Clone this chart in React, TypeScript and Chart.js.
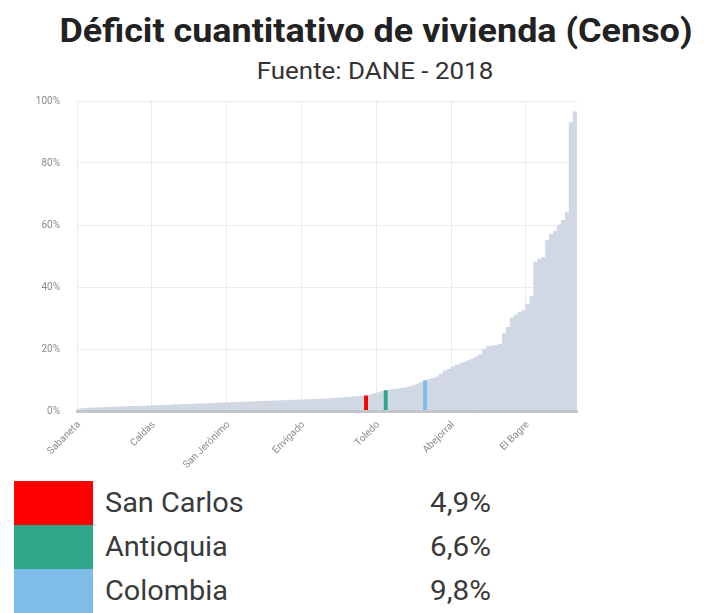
import React, { useEffect, useRef } from "react";
import { Chart, registerables } from "chart.js";

Chart.register(...registerables);
Chart.defaults.font.family = "Roboto";

const municipios: string[] = [
  "Sabaneta", "Itagüí", "La Estrella", "Medellín", "Bello", "Copacabana", "Girardota", "Rionegro", "La Ceja", "Marinilla",
  "Guarne", "Retiro", "El Carmen de Viboral", "La Unión", "El Santuario", "Barbosa", "Donmatías", "Entrerríos", "San Pedro de los Milagros", "Caldas",
  "Santa Rosa de Osos", "Belmira", "Guatapé", "El Peñol", "Jardín", "Jericó", "Andes", "Fredonia", "Santa Bárbara", "Amagá",
  "Titiribí", "Venecia", "Támesis", "Caramanta", "Montebello", "Abriaquí", "Sopetrán", "Santa Fe de Antioquia", "San Jerónimo", "Ebéjico",
  "Heliconia", "Angelópolis", "Armenia", "Concordia", "Betulia", "Salgar", "Hispania", "Betania", "Ciudad Bolívar", "Pueblorrico",
  "Tarso", "La Pintada", "Valparaíso", "Yarumal", "Angostura", "Carolina del Príncipe", "Gómez Plata", "Envigado", "Guadalupe", "Campamento",
  "San José de la Montaña", "San Andrés de Cuerquia", "Sonsón", "Nariño", "Argelia", "Concepción", "Alejandría", "Santo Domingo", "San Vicente", "Granada",
  "Cocorná", "San Francisco", "San Luis", "San Carlos", "San Rafael", "San Roque", "Toledo", "Cisneros", "Antioquia", "Maceo",
  "Caracolí", "Puerto Berrío", "Puerto Nare", "Puerto Triunfo", "Yolombó", "Yalí", "Vegachí", "Amalfi", "Colombia", "Anorí",
  "Liborina", "Sabanalarga", "Olaya", "Buriticá", "Giraldo", "Abejorral", "Cañasgordas", "Uramita", "Frontino", "Dabeiba",
  "Peque", "Ituango", "Briceño", "Valdivia", "Urrao", "Caicedo", "Anzá", "Segovia", "Remedios", "Zaragoza",
  "Caucasia", "Tarazá", "Cáceres", "Nechí", "El Bagre", "Yondó", "Apartadó", "Carepa", "Chigorodó", "Mutatá",
  "Turbo", "Necoclí", "San Juan de Urabá", "Arboletes", "San Pedro de Urabá", "Vigía del Fuerte", "Murindó",
];

const deficit: number[] = [
  0.6, 0.8, 0.9, 1.0, 1.0, 1.1, 1.1, 1.2, 1.2, 1.3,
  1.3, 1.4, 1.4, 1.5, 1.5, 1.5, 1.6, 1.6, 1.7, 1.7,
  1.8, 1.8, 1.9, 1.9, 2.0, 2.0, 2.1, 2.1, 2.2, 2.2,
  2.3, 2.3, 2.4, 2.4, 2.5, 2.5, 2.6, 2.6, 2.7, 2.7,
  2.8, 2.8, 2.9, 2.9, 3.0, 3.0, 3.1, 3.1, 3.2, 3.2,
  3.3, 3.3, 3.4, 3.4, 3.5, 3.5, 3.6, 3.6, 3.7, 3.7,
  3.8, 3.8, 3.9, 3.9, 4.0, 4.1, 4.2, 4.3, 4.4, 4.5,
  4.6, 4.7, 4.8, 4.9, 5.2, 5.6, 5.9, 6.3, 6.6, 6.8,
  7.0, 7.1, 7.3, 7.5, 7.8, 8.2, 8.7, 9.3, 9.8, 10.2,
  10.5, 11.0, 12.0, 13.0, 13.5, 14.2, 14.8, 15.3, 15.7, 16.2,
  16.8, 17.5, 18.2, 20.0, 20.8, 21.0, 21.2, 21.5, 25.0, 27.0,
  30.0, 31.0, 31.8, 32.5, 34.5, 37.0, 48.0, 49.0, 49.5, 55.0,
  57.0, 58.0, 60.0, 61.5, 64.0, 93.0, 96.5,
];

const tickLabels: string[] = ["Sabaneta", "Caldas", "San Jerónimo", "Envigado", "Toledo", "Abejorral", "El Bagre"];
const yTicks: number[] = [0, 20, 40, 60, 80, 100];

const highlightNames: string[] = ["San Carlos", "Antioquia", "Colombia"];
const highlightValues: string[] = ["4,9%", "6,6%", "9,8%"];
const highlightColors: string[] = ["#ff0000", "#2ea68a", "#7dbde8"];
const baseColor = "#d1d8e3";

const TITLE = "Déficit cuantitativo de vivienda (Censo)";
const SUBTITLE = "Fuente: DANE - 2018";

export default function App() {
  const ref = useRef<HTMLCanvasElement>(null);

  useEffect(() => {
    const colors = municipios.map((m) => {
      const k = highlightNames.indexOf(m);
      return k >= 0 ? highlightColors[k] : baseColor;
    });
    const chart = new Chart(ref.current as HTMLCanvasElement, {
      type: "bar",
      data: {
        labels: municipios,
        datasets: [
          {
            data: deficit,
            backgroundColor: colors,
            borderWidth: 0,
            barPercentage: 1,
            categoryPercentage: 1,
          },
        ],
      },
      options: {
        responsive: false,
        animation: false,
        layout: { padding: { top: 8, right: 23, left: 0, bottom: 0 } },
        plugins: { legend: { display: false }, tooltip: { enabled: false } },
        scales: {
          x: {
            offset: true,
            grid: {
              offset: true,
              drawTicks: false,
              color: (ctx: any) =>
                tickLabels.includes(municipios[ctx.index]) ? "#ebebeb" : "rgba(0,0,0,0)",
            },
            border: { display: true, color: "#c3c6ca", width: 3, z: 1 },
            ticks: {
              autoSkip: false,
              minRotation: 45,
              maxRotation: 45,
              padding: 8,
              color: "#8a8a8a",
              font: { size: 10 },
              callback: (_v: any, i: number) =>
                tickLabels.includes(municipios[i]) ? municipios[i] : "",
            },
            afterFit: (s: any) => {
              s.height = 64;
            },
          },
          y: {
            min: yTicks[0],
            max: yTicks[yTicks.length - 1],
            afterBuildTicks: (s: any) => {
              s.ticks = yTicks.map((v) => ({ value: v }));
            },
            grid: { color: "#ebebeb", drawTicks: false },
            border: { display: false },
            ticks: {
              padding: 17,
              color: "#8a8a8a",
              font: { size: 10 },
              callback: (v: any) => v + "%",
            },
            afterFit: (s: any) => {
              s.width = 57;
            },
          },
        },
      },
    });
    return () => chart.destroy();
  }, []);

  return (
    <div
      style={{
        position: "absolute",
        left: 0,
        top: 0,
        width: 704,
        height: 613,
        overflow: "hidden",
        background: "#fff",
        fontFamily: "Roboto, sans-serif",
      }}
    >
      <div
        style={{
          position: "absolute",
          left: 0,
          width: 752,
          top: 13,
          textAlign: "center",
          fontSize: 34,
          lineHeight: "34px",
          fontWeight: 700,
          color: "#222",
          whiteSpace: "nowrap",
          transform: "scaleX(1.057)",
          transformOrigin: "376px 0",
        }}
      >
        {TITLE}
      </div>
      <div
        style={{
          position: "absolute",
          left: 0,
          width: 750,
          top: 59,
          textAlign: "center",
          fontSize: 24,
          lineHeight: "24px",
          color: "#333",
          whiteSpace: "nowrap",
          transform: "scaleX(1.08)",
          transformOrigin: "375px 0",
        }}
      >
        {SUBTITLE}
      </div>
      <canvas
        ref={ref}
        width={580}
        height={397}
        style={{ position: "absolute", left: 20, top: 78, width: 580, height: 397 }}
      />
      {highlightNames.map((name, i) => (
        <div key={name}>
          <div
            style={{
              position: "absolute",
              left: 14,
              top: 481 + i * 44,
              width: 79,
              height: 44,
              background: highlightColors[i],
            }}
          />
          <div
            style={{
              position: "absolute",
              left: 105,
              top: 481 + i * 44,
              height: 44,
              lineHeight: "44px",
              fontSize: 27,
              color: "#3a3a3a",
              whiteSpace: "nowrap",
              transform: "scaleX(1.07)",
              transformOrigin: "0 0",
            }}
          >
            {name}
          </div>
          <div
            style={{
              position: "absolute",
              left: 391,
              width: 100,
              top: 481 + i * 44,
              height: 44,
              lineHeight: "44px",
              fontSize: 27,
              color: "#3a3a3a",
              textAlign: "right",
              transform: "scaleX(1.1)",
              transformOrigin: "100px 0",
            }}
          >
            {highlightValues[i]}
          </div>
        </div>
      ))}
    </div>
  );
}
